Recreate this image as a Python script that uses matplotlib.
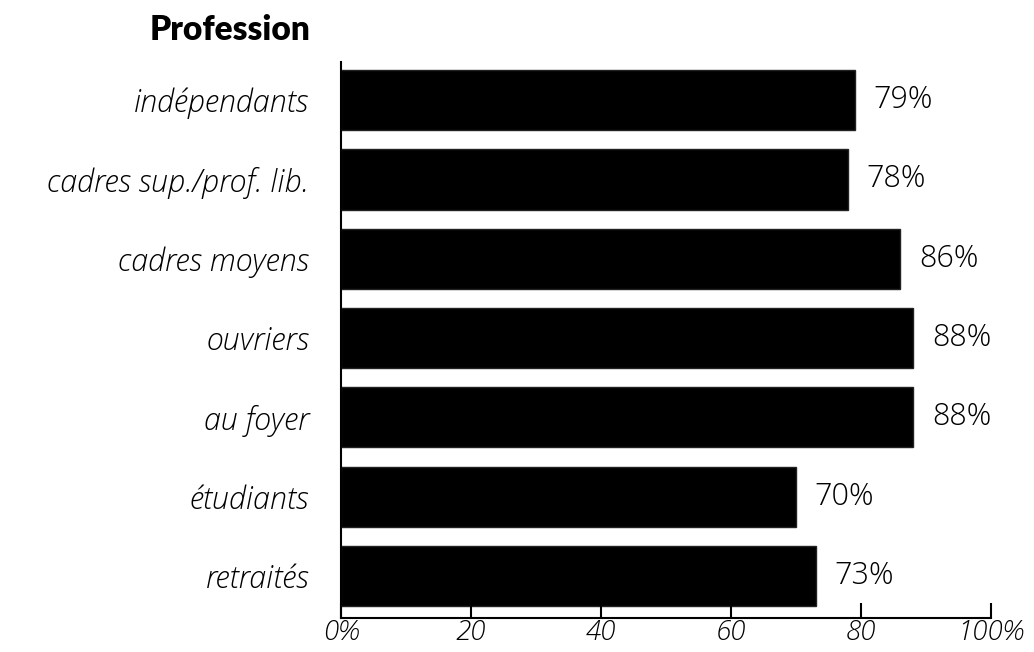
import matplotlib.pyplot as plt
import numpy as np

categories = ['indépendants', 'cadres sup./prof. lib.', 'cadres moyens', 'ouvriers',
              'au foyer', 'étudiants', 'retraités']
values = [79, 78, 86, 88, 88, 70, 73]
xticks = [0, 20, 40, 60, 80, 100]
xtick_labels = ['0%', '20', '40', '60', '80', '100%']

plt.rcParams['font.family'] = ['Open Sans', 'DejaVu Sans']

fig = plt.figure(figsize=(10.34, 6.52), dpi=100)
ax = fig.add_axes([341 / 1034, 1 - 618 / 652, 650 / 1034, 556 / 652])

pos = np.arange(len(categories))
ax.barh(pos, values, height=0.76, color='black', edgecolor='#222222', linewidth=1)

for p, v in zip(pos, values):
    ax.text(v + 2.9, p, f'{v}%', va='center', ha='left', fontsize=22,
            fontweight='light', color='black')

ax.set_xlim(0, 100)
ax.set_ylim(6.53, -0.48)
ax.set_yticks(pos)
ax.set_yticklabels(categories, fontsize=22, style='italic', fontweight='light', color='black')
ax.set_xticks(xticks)
ax.set_xticklabels(xtick_labels, fontsize=20, style='italic', fontweight='light', color='black')
ax.tick_params(axis='y', length=0, pad=23)
ax.tick_params(axis='x', direction='in', length=11, width=1.5, pad=1)

for s in ['top', 'right']:
    ax.spines[s].set_visible(False)
ax.spines['left'].set_linewidth(1.5)
ax.spines['bottom'].set_linewidth(1.5)

fig.text(310 / 1034, 1 - 30 / 652, 'Profession', ha='right', va='center',
         fontsize=24, fontweight='heavy', family=['Lato', 'DejaVu Sans'])

plt.savefig('out.png', dpi=100)
